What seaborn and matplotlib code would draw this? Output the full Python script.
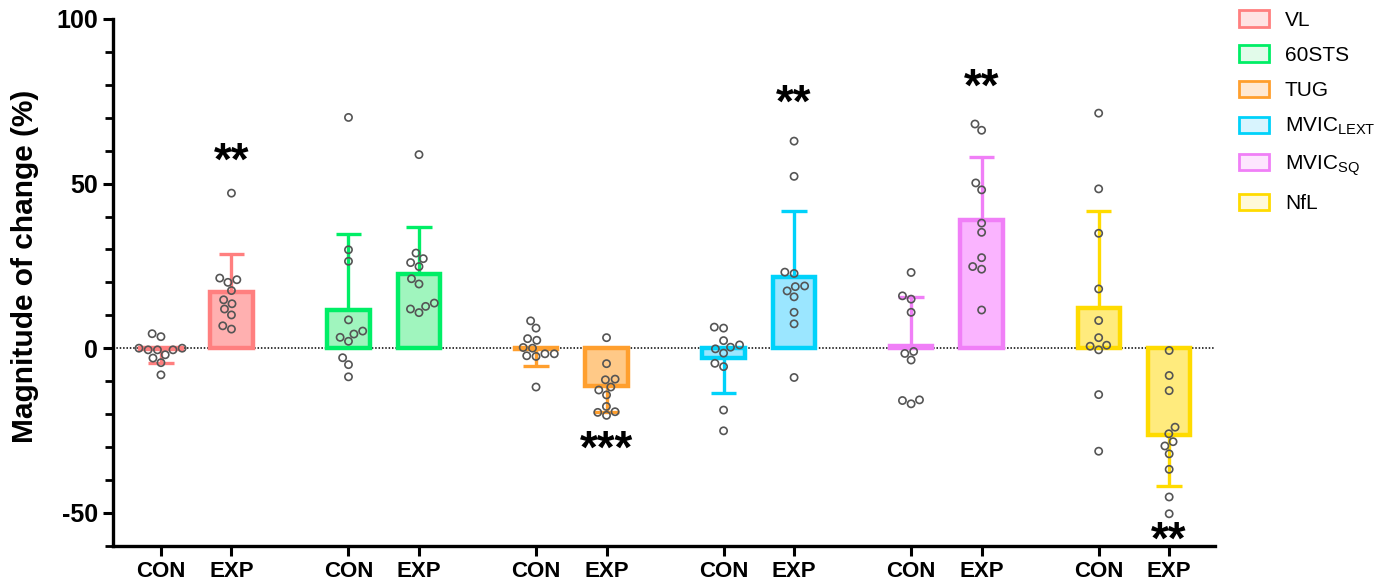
import numpy as np
import pandas as pd
import matplotlib
matplotlib.use("Agg")
import matplotlib.pyplot as plt
import seaborn as sns
from matplotlib.patches import Patch
from matplotlib.ticker import MultipleLocator, FixedLocator

# ---------------- data ----------------
measures = ["VL", "60STS", "TUG", "MVIC_LEXT", "MVIC_SQ", "NfL"]
legend_labels = ["VL", "60STS", "TUG", r"MVIC$_{\mathregular{LEXT}}$",
                 r"MVIC$_{\mathregular{SQ}}$", "NfL"]
conditions = ["CON", "EXP"]

vl_con = [-0.5, 0.0, 0.0, -0.5, -0.5, -2.0, -3.0, -4.4, 3.5, 4.4, -8.1]
vl_exp = [47.1, 21.3, 20.0, 20.8, 17.5, 13.5, 14.7, 11.9, 10.1, 5.8, 6.8]
sts_con = [70.1, 29.9, 26.4, 8.6, 3.3, 5.2, 4.3, 2.1, -2.9, -5.0, -8.7]
sts_exp = [58.8, 28.9, 26.0, 27.2, 24.8, 21.1, 19.5, 13.7, 10.8, 12.7, 11.9]
tug_con = [8.3, 6.1, 2.4, 2.9, 0.2, 0.0, -1.7, -2.3, -2.5, -1.7, -11.8]
tug_exp = [3.2, -4.7, -9.4, -9.6, -12.7, -11.8, -14.2, -17.7, -19.3, -19.5, -20.4]
lext_con = [6.1, 6.4, 2.3, 0.3, 1.0, -0.2, -1.5, -5.6, -4.6, -18.8, -25.1]
lext_exp = [62.9, 52.2, 23.1, 22.7, 17.4, 18.7, 18.9, 15.6, 10.9, 7.4, -8.9]
sq_con = [23.0, 15.9, 14.9, 10.9, -1.6, -1.0, -3.6, -16.9, -15.7, -15.9]
sq_exp = [68.1, 66.2, 50.2, 48.1, 38.0, 35.2, 27.5, 24.8, 24.0, 11.6]
nfl_con = [71.4, 48.4, 34.9, 18.0, 8.4, 3.2, 0.6, 0.9, -0.5, -14.1, -31.3]
nfl_exp = [-0.7, -8.3, -12.9, -24.0, -26.0, -29.7, -28.4, -32.1, -36.8, -45.2, -50.3]

mean_con = [-0.3, 11.7, -0.2, -3.0, 0.6, 12.2]
sd_con = [4.3, 23.1, 5.1, 10.5, 15.0, 29.6]
mean_exp = [17.1, 22.6, -11.4, 21.5, 39.0, -26.3]
sd_exp = [11.5, 14.2, 8.1, 20.3, 19.0, 15.5]

# significance marks above/below EXP bars: (group index, label, y)
sig_group = [0, 2, 3, 4, 5]
sig_text = ["**", "***", "**", "**", "**"]
sig_y = [58.8, -28.6, 76.7, 81.3, -56.1]

yticks = [-50, 0, 50, 100]
ytick_labels = ["-50", "0", "50", "100"]

# ---------------- styles ----------------
edge_colors = ["#FF7F7F", "#00EE66", "#FF9F2E", "#00D2FA", "#F07FF7", "#FFDB00"]
fill_colors = ["#FFB0B0", "#A0F5BE", "#FFC987", "#9BE6FF", "#FAB4FF", "#FFEB7D"]
legend_fill = ["#FFE3E3", "#E2FBEA", "#FFE9D3", "#D8F4FE", "#FDE6FE", "#FFF9D9"]

GAP = 2.66      # distance between measure groups (in CON-EXP units)
BAR_W = 0.6
CAP_HALF = 0.18
STAR_SHIFT = 2.6  # asterisk glyphs sit high in the text box

font = "Liberation Sans"
plt.rcParams["font.family"] = [font, "DejaVu Sans"]
plt.rcParams["mathtext.fontset"] = "custom"
plt.rcParams["mathtext.rm"] = font
plt.rcParams["mathtext.it"] = font
plt.rcParams["mathtext.bf"] = font + ":bold"

point_lists = [[vl_con, vl_exp], [sts_con, sts_exp], [tug_con, tug_exp],
               [lext_con, lext_exp], [sq_con, sq_exp], [nfl_con, nfl_exp]]

rows = []
bar_rows = []
for gi, m in enumerate(measures):
    for ci, c in enumerate(conditions):
        pos = round(gi * GAP + ci, 4)
        for v in point_lists[gi][ci]:
            rows.append({"pos": pos, "value": v, "measure": m})
        mean = mean_con[gi] if ci == 0 else mean_exp[gi]
        sd = sd_con[gi] if ci == 0 else sd_exp[gi]
        bar_rows.append({"pos": pos, "mean": mean, "sd": sd, "measure": m,
                         "cond": c, "gi": gi})
pts = pd.DataFrame(rows)
bars = pd.DataFrame(bar_rows)

fig = plt.figure(figsize=(13.87, 5.86), dpi=100)
ax = fig.add_axes([113 / 1387, 1 - 545.7 / 586, (1215 - 113) / 1387, (545.7 - 19) / 586])

ax.axhline(0, color="black", lw=1.1, ls=(0, (1, 1.2)), zorder=0.5)

sns.barplot(data=bars, x="pos", y="mean", hue="measure", hue_order=measures,
            palette=dict(zip(measures, fill_colors)), native_scale=True,
            dodge=False, width=BAR_W, errorbar=None, legend=False,
            linewidth=3.0, ax=ax, zorder=2)


def group_of(x):
    d = [min(abs(x - g * GAP), abs(x - g * GAP - 1)) for g in range(len(measures))]
    return int(np.argmin(d))


for p in ax.patches:
    gi = group_of(p.get_x() + p.get_width() / 2)
    p.set_edgecolor(edge_colors[gi])
    p.set_facecolor(fill_colors[gi])
    p.set_linewidth(3.2)

# one-sided SD error bars (away from zero)
for _, r in bars.iterrows():
    sign = 1 if r["mean"] >= 0 else -1
    end = r["mean"] + sign * r["sd"]
    col = edge_colors[int(r["gi"])]
    ax.vlines(r["pos"], r["mean"], end, color=col, lw=2.4, zorder=3)
    ax.hlines(end, r["pos"] - CAP_HALF, r["pos"] + CAP_HALF, color=col, lw=2.4, zorder=3)

sns.swarmplot(data=pts, x="pos", y="value", native_scale=True, size=5.2,
              color="white", edgecolor="#555555", linewidth=1.2, ax=ax, zorder=5)
for coll in ax.collections:
    if isinstance(coll, matplotlib.collections.PathCollection):
        coll.set_facecolor("none")
        coll.set_edgecolor("#555555")

for gi, txt, y in zip(sig_group, sig_text, sig_y):
    ax.text(gi * GAP + 1, y - STAR_SHIFT, txt, ha="center", va="center",
            fontsize=33, fontweight="bold", color="black", zorder=6)

ax.set_xlim(-0.68, 14.95)
ax.set_ylim(-60, 100)
xt = [round(g * GAP + c, 4) for g in range(len(measures)) for c in range(2)]
ax.xaxis.set_major_locator(FixedLocator(xt))
ax.set_xticklabels(conditions * len(measures))
ax.yaxis.set_major_locator(FixedLocator(yticks))
ax.set_yticklabels(ytick_labels)
ax.yaxis.set_minor_locator(MultipleLocator(10))
ax.set_xlabel("")
ax.set_ylabel("")
for s in ["top", "right"]:
    ax.spines[s].set_visible(False)
for s in ["left", "bottom"]:
    ax.spines[s].set_linewidth(2.4)
    ax.spines[s].set_color("black")
ax.tick_params(axis="both", which="major", length=7, width=2.2, color="black",
               labelsize=16, pad=4)
ax.tick_params(axis="y", which="minor", length=6, width=2.0, color="black")
for lab in ax.get_xticklabels():
    lab.set_fontweight("bold")
    lab.set_fontsize(16)
for lab in ax.get_yticklabels():
    lab.set_fontweight("bold")
    lab.set_fontsize(18)

fig.text(25 / 1387, 1 - 266 / 586, "Magnitude of change (%)", rotation=90,
         ha="center", va="center", fontsize=21.5, fontweight="bold")

handles = [Patch(facecolor=lf, edgecolor=ec, linewidth=2.0)
           for lf, ec in zip(legend_fill, edge_colors)]
fig.legend(handles, legend_labels, loc="upper left",
           bbox_to_anchor=(1239 / 1387, 1 - 10 / 586), frameon=False,
           fontsize=15, handlelength=1.45, handleheight=0.85, labelspacing=0.76,
           handletextpad=0.75, borderpad=0, borderaxespad=0)

fig.savefig("out.png", dpi=100)
